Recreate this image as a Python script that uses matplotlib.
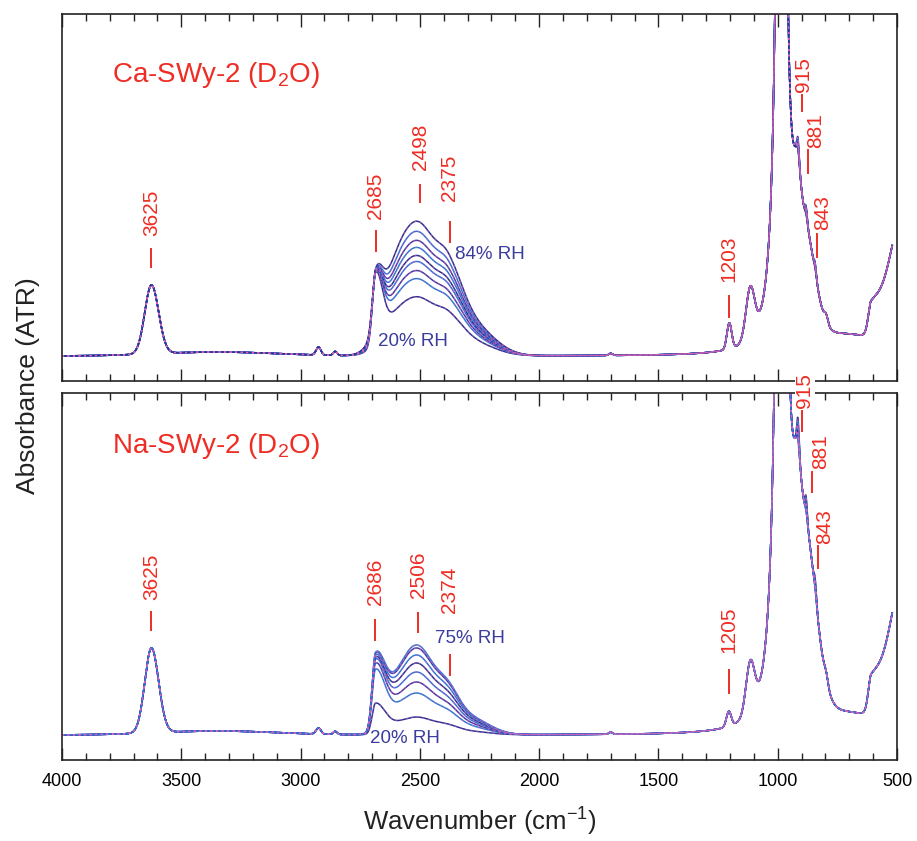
import matplotlib
matplotlib.use("Agg")
import matplotlib.pyplot as plt
from matplotlib.ticker import MultipleLocator
import numpy as np

plt.rcParams["font.family"] = ["Liberation Sans", "DejaVu Sans"]
plt.rcParams["mathtext.fontset"] = "custom"
plt.rcParams["mathtext.rm"] = "Liberation Sans"
plt.rcParams["mathtext.default"] = "regular"

# Absorbance read at the OD-stretch maxima, driest -> wettest spectrum
ca_od_peak = [0.59, 0.77, 0.85, 0.94, 1.00, 1.08, 1.15, 1.24, 1.34]   # at 2498
ca_od_2685 = [0.84, 0.85, 0.85, 0.86, 0.86, 0.86, 0.87, 0.87, 0.88]   # at 2685
na_od_peak = [0.18, 0.42, 0.53, 0.63, 0.72, 0.80, 0.87, 0.90]         # at 2506
na_od_2686 = [0.32, 0.66, 0.72, 0.76, 0.78, 0.80, 0.82, 0.83]         # at 2686
# OH/OD deformation notches (915 / 881 / 843) per spectrum
ca_def = [0.20, 0.18, 0.16, 0.15, 0.14, 0.12, 0.11, 0.10, 0.08]
na_def = [0.30, 0.26, 0.22, 0.19, 0.16, 0.13, 0.10, 0.08]

# clay framework bands: (centre, height, sigma high-wn side, sigma low-wn side)
ca_frame = [(3625, 0.69, 28, 30), (3350, 0.04, 250, 250), (2925, 0.08, 10, 10),
            (2855, 0.04, 8, 8), (1700, 0.02, 8, 8), (1203, 0.26, 10, 10),
            (1115, 0.50, 18, 18), (920, 0.45, 15, 15), (890, 1.00, 45, 45),
            (797, 0.08, 8, 8), (700, 0.18, 120, 120), (608, 0.30, 12, 45),
            (470, 1.40, 60, 60)]
na_frame = [(3625, 0.85, 28, 30), (3350, 0.04, 250, 250), (2925, 0.06, 10, 10),
            (2855, 0.03, 8, 8), (1700, 0.02, 8, 8), (1205, 0.15, 10, 10),
            (1115, 0.50, 18, 18), (920, 0.50, 15, 15), (890, 1.75, 50, 50),
            (797, 0.08, 8, 8), (700, 0.18, 120, 120), (608, 0.34, 12, 45),
            (470, 1.55, 60, 60)]
ca_sio = (985, 12.0, 17.0)   # Si-O stretch (centre, height, half width)
na_sio = (985, 12.0, 19.0)

# broad OD-stretch envelope of sorbed D2O (relative heights)
ca_water = [(2610, 0.55, 60, 60), (2498, 1.00, 70, 70), (2378, 0.50, 50, 60), (2280, 0.25, 90, 90)]
na_water = [(2600, 0.35, 50, 50), (2506, 1.00, 65, 65), (2385, 0.40, 50, 50), (2290, 0.20, 80, 80)]
ca_sharp = (2685, 14, 28)
na_sharp = (2686, 14, 40)
def_bands = [(915, 1.0), (881, 0.7), (843, 0.5)]

wn = np.linspace(4000, 520, 3481)


def band(w, c, h, s_hi, s_lo):
    s = np.where(w >= c, s_hi, s_lo)
    return h * np.exp(-0.5 * ((w - c) / s) ** 2)


def frame_spec(w, bands, sio):
    c, h, g = sio
    y = h / (1 + ((w - c) / g) ** 2)
    for b in bands:
        y = y + band(w, *b)
    return y


def envelope(w, comps):
    y = np.zeros_like(w, dtype=float)
    for c, h, a, b in comps:
        y = y + band(w, c, h, a, b)
    return y


def spectra(bands, sio, water, sharp, peak_at, peaks, tops, defs):
    c_s, s_hi, s_lo = sharp
    base = frame_spec(wn, bands, sio)
    env = envelope(wn, water)
    pts = np.array([c_s, peak_at], dtype=float)
    f_pts = frame_spec(pts, bands, sio)
    e_pts = envelope(pts, water)
    out = []
    for p, t, d in zip(peaks, tops, defs):
        scale = (p - f_pts[1]) / e_pts[1]
        amp = t - f_pts[0] - scale * e_pts[0]
        y = base + scale * env + band(wn, c_s, amp, s_hi, s_lo)
        for c, r in def_bands:
            y = y + band(wn, c, d * r, 5, 5)
        out.append(y)
    return out


RED = "#ee2d24"
BLUE_TXT = "#3a3c9e"
line_cols = ["#2e3192", "#2a7ad6", "#4b3aa4", "#3a6fd8"]

# label layout: (text, text wn, text y, line wn, line y0, line y1)
ca_labels = [("3625", 3625, 1.20, 3625, 1.07, 0.89), ("2685", 2685, 1.37, 2685, 1.25, 1.05),
             ("2498", 2498, 1.87, 2498, 1.72, 1.54), ("2375", 2375, 1.55, 2375, 1.34, 1.14),
             ("1203", 1203, 0.74, 1203, 0.60, 0.39), ("915", 894, 2.65, 899, 2.62, 2.46),
             ("881", 840, 2.09, 873, 2.07, 1.84), ("843", 811, 1.26, 836, 1.22, 0.99)]
na_labels = [("3625", 3625, 1.35, 3625, 1.23, 1.05), ("2686", 2686, 1.30, 2686, 1.15, 0.95),
             ("2506", 2506, 1.37, 2506, 1.22, 1.03), ("2374", 2374, 1.22, 2374, 0.80, 0.60),
             ("1205", 1205, 0.82, 1205, 0.65, 0.42), ("915", 886, 3.28, 899, 3.25, 3.05),
             ("881", 819, 2.67, 857, 2.64, 2.44), ("843", 802, 1.92, 832, 1.90, 1.68)]

panels = [
    dict(title="Ca-SWy-2 (D$_2$O)",
         curves=spectra(ca_frame, ca_sio, ca_water, ca_sharp, 2498, ca_od_peak, ca_od_2685, ca_def),
         labels=ca_labels, hi=("84% RH", 2353, 1.02), lo=("20% RH", 2676, 0.15), title_y=2.82),
    dict(title="Na-SWy-2 (D$_2$O)",
         curves=spectra(na_frame, na_sio, na_water, na_sharp, 2506, na_od_peak, na_od_2686, na_def),
         labels=na_labels, hi=("75% RH", 2437, 0.97), lo=("20% RH", 2709, -0.03), title_y=2.90),
]

W, H = 917, 841
fig = plt.figure(figsize=(W / 100, H / 100), dpi=100)
ax_top = fig.add_axes([62 / W, 1 - 381 / H, 835 / W, 367 / H])
ax_bot = fig.add_axes([62 / W, 1 - 760 / H, 835 / W, 367 / H])

for ax, p in zip([ax_top, ax_bot], panels):
    for i, y in enumerate(p["curves"]):
        ax.plot(wn, y, color=line_cols[i % len(line_cols)], lw=1.1, zorder=2)
        ax.plot(wn, y, color="#d864b8", lw=0.8, dashes=(1.5, 3.5), alpha=0.7, zorder=2.1)
    ax.set_xlim(4000, 500)
    ax.set_ylim(-0.25, 3.43)
    ax.set_yticks([])
    ax.xaxis.set_major_locator(MultipleLocator(500))
    ax.xaxis.set_minor_locator(MultipleLocator(100))
    ax.tick_params(axis="x", which="both", direction="in", top=True, bottom=True,
                   width=1.0, color="#222222", labelsize=13, pad=9)
    ax.tick_params(axis="x", which="major", length=9)
    ax.tick_params(axis="x", which="minor", length=5)
    for s in ax.spines.values():
        s.set_linewidth(1.2)
        s.set_color("#222222")

    ax.text(3790, p["title_y"], p["title"], color=RED, fontsize=20, va="center", ha="left")
    for txt, tx, ty, lx, l0, l1 in p["labels"]:
        ax.text(tx, ty, txt, color=RED, fontsize=15, rotation=90, ha="center", va="bottom",
                clip_on=False, zorder=6,
                bbox=dict(fc="white", ec="none", pad=0.5) if txt == "915" else None)
        ax.plot([lx, lx], [l0, l1], color=RED, lw=1.4, zorder=5, clip_on=False)
    for txt, x, y in (p["hi"], p["lo"]):
        ax.text(x, y, txt, color=BLUE_TXT, fontsize=13.5, ha="left", va="center", zorder=5)

ax_top.tick_params(axis="x", labelbottom=False)

fig.text(28 / W, 1 - 386 / H, "Absorbance (ATR)", rotation=90, fontsize=19,
         ha="center", va="center", color="#222222")
fig.text(480 / W, 1 - 822 / H, "Wavenumber (cm$^{-1}$)", fontsize=18.5,
         ha="center", va="center", color="#222222")

fig.savefig("out.png", dpi=100)
